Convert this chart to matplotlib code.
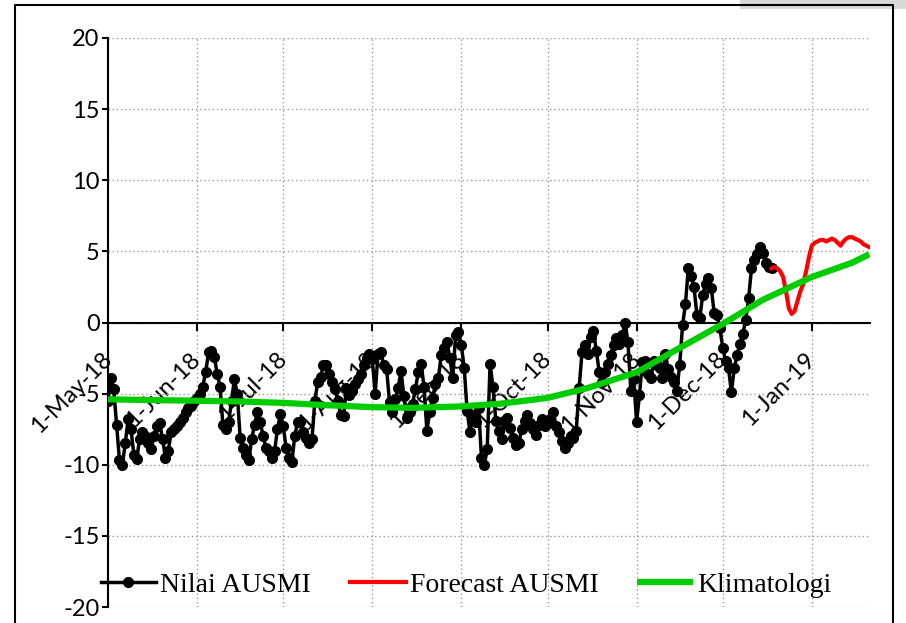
import numpy as np
import matplotlib.pyplot as plt
import matplotlib.dates as mdates
from matplotlib.lines import Line2D
from matplotlib.patches import Rectangle

# daily AUSMI index, starting 1 May 2018
ausmi_start = '2018-05-01'
ausmi = [
    # May
    -5.5, -3.9, -4.7, -7.2, -9.7, -10.0, -8.5, -6.8, -7.5, -9.3,
    -9.6, -8.2, -7.7, -8.0, -8.5, -8.9, -8.0, -7.3, -7.1, -8.2,
    -9.5, -9.0, -7.7, -7.5, -7.3, -7.0, -6.7, -6.3, -6.0, -5.9,
    -5.5,
    # Jun
    -5.3, -5.0, -4.5, -3.5, -2.1, -2.0, -2.4, -3.6, -4.5, -7.2,
    -7.5, -7.0, -5.5, -4.0, -5.0, -8.1, -8.8, -9.3, -9.7, -8.2,
    -7.2, -6.3, -7.0, -8.0, -8.8, -9.0, -9.5, -9.0, -7.5, -6.4,
    # Jul
    -7.3, -8.8, -9.5, -9.8, -8.0, -7.0, -7.0, -7.7, -8.1, -8.5,
    -8.2, -5.5, -4.2, -3.8, -3.0, -3.0, -3.6, -4.2, -4.7, -5.5,
    -6.5, -6.6, -4.6, -5.1, -4.8, -4.3, -4.0, -3.6, -3.0, -2.5,
    -2.2,
    # Aug
    -2.6, -5.0, -2.2, -2.1, -3.0, -3.3, -5.6, -6.3, -5.4, -4.6,
    -3.4, -5.2, -6.7, -6.3, -5.7, -4.7, -3.5, -2.9, -4.5, -7.6,
    -6.3, -5.3, -4.3, -3.9, -2.3, -1.8, -1.4, -2.5, -3.9, -0.9,
    -0.7,
    # Sep
    -1.6, -3.2, -6.2, -7.7, -6.5, -7.0, -6.0, -9.5, -10.0, -8.9,
    -2.9, -4.5, -6.9, -7.6, -8.2, -6.9, -6.7, -7.4, -8.1, -8.6,
    -8.5, -7.5, -6.9, -6.5, -7.1, -7.5, -7.9, -7.2, -6.8, -7.3,
    # Oct
    -7.1, -6.8, -6.3, -7.3, -7.7, -8.3, -8.8, -8.5, -8.0, -8.1,
    -7.6, -4.6, -2.1, -1.6, -2.2, -1.0, -0.6, -2.0, -3.5, -4.2,
    -3.5, -2.9, -2.3, -1.6, -1.1, -1.5, -0.9, 0.0, -1.4, -4.8,
    -4.0,
    # Nov
    -7.0, -5.1, -2.8, -2.7, -3.6, -3.9, -2.7, -3.0, -3.2, -3.9,
    -2.2, -3.3, -3.8, -4.2, -4.8, -3.0, -0.2, 1.3, 3.8, 3.3,
    2.5, 0.5, 0.3, 1.9, 2.7, 3.1, 2.4, 0.7, 0.5, -0.4,
    # Dec
    -1.8, -2.7, -3.2, -4.9, -3.2, -2.3, -1.5, -0.8, 0.2, 1.7,
    3.8, 4.4, 4.8, 5.3, 4.9, 4.2, 3.9, 3.8,
]

# daily forecast, starting 18 Dec 2018
forecast_start = '2018-12-18'
forecast = [
    3.8, 3.9, 3.8, 3.6, 3.2, 2.2, 1.0, 0.6, 0.8, 1.5,
    2.2, 2.7, 3.6, 4.6, 5.4, 5.6, 5.7, 5.8, 5.8, 5.7,
    5.8, 5.9, 5.8, 5.6, 5.4, 5.7, 5.9, 6.0, 6.0, 5.9,
    5.8, 5.7, 5.5, 5.4, 5.3,
]

klim_dates = ['2018-05-01', '2018-05-15', '2018-06-01', '2018-06-15', '2018-07-01',
              '2018-07-15', '2018-08-01', '2018-08-15', '2018-09-01', '2018-09-15',
              '2018-10-01', '2018-10-15', '2018-11-01', '2018-11-15', '2018-12-01',
              '2018-12-15', '2019-01-01', '2019-01-15', '2019-01-21']
klim = [-5.4, -5.45, -5.5, -5.55, -5.65,
        -5.8, -5.95, -6.0, -5.9, -5.7,
        -5.3, -4.6, -3.5, -1.9, -0.1,
        1.6, 3.2, 4.2, 4.8]

plt.rcParams['font.family'] = ['Lato', 'DejaVu Sans']
plt.rcParams['axes.unicode_minus'] = False

t_ausmi = np.datetime64(ausmi_start) + np.arange(len(ausmi))
t_fc = np.datetime64(forecast_start) + np.arange(len(forecast))
t_klim = np.array(klim_dates, dtype='datetime64[D]')

fig = plt.figure(figsize=(9.06, 6.23), dpi=100)
ax = fig.add_axes([108/906, 1-607/623, 762/906, 569/623])

l1, = ax.plot(t_ausmi, ausmi, color='black', lw=2.5, marker='o', ms=7,
              label='Nilai AUSMI', zorder=3)
l2, = ax.plot(t_fc, forecast, color='#ff0000', lw=3, label='Forecast AUSMI', zorder=3)
l3, = ax.plot(t_klim, klim, color='#00cc00', lw=4.5, solid_capstyle='butt',
              label='Klimatologi', zorder=4)

ax.set_ylim(-20, 20)
ax.set_yticks(np.arange(-20, 21, 5))
ax.set_xlim(np.datetime64('2018-05-01'), np.datetime64('2019-01-21T06'))

ax.xaxis.set_major_locator(mdates.MonthLocator())
ax.xaxis.set_major_formatter(plt.FuncFormatter(
    lambda x, _: f"{mdates.num2date(x).day}-{mdates.num2date(x).strftime('%b-%y')}"))

grid_kw = dict(color='#9a9a9a', lw=1, linestyle=(0, (1, 2)))
ax.grid(True, **grid_kw)
ax.set_axisbelow(True)

for s in ['top', 'right']:
    ax.spines[s].set_visible(False)
ax.spines['bottom'].set_position(('data', 0))
ax.spines['bottom'].set_linewidth(1.5)
ax.spines['left'].set_linewidth(1.5)

ax.tick_params(axis='y', direction='out', length=4, width=1.5, pad=2, labelsize=17)
ax.tick_params(axis='x', direction='out', length=6, width=1.5, pad=18, labelsize=17)
for lab in ax.get_xticklabels():
    lab.set_rotation(45)
    lab.set_ha('right')
    lab.set_va('center')
    lab.set_rotation_mode('anchor')

leg = ax.legend(handles=[l1, l2, l3], loc='center', ncol=3, frameon=False,
                bbox_to_anchor=(466/906, 1-585/623), bbox_transform=fig.transFigure,
                prop={'family': 'Liberation Serif', 'size': 20},
                handlelength=2.0, handletextpad=0.15, columnspacing=1.4)

# outer chart frame
fig.add_artist(Rectangle((740/906, 1-9/623), 166/906, 9/623, transform=fig.transFigure,
                         facecolor='#d9d9d9', edgecolor='none'))
fig.add_artist(Line2D([15/906, 15/906, 893/906, 893/906], [0, 1-5/623, 1-5/623, 0],
                      transform=fig.transFigure, color='black', lw=1.5))

fig.savefig('out.png', dpi=100)
